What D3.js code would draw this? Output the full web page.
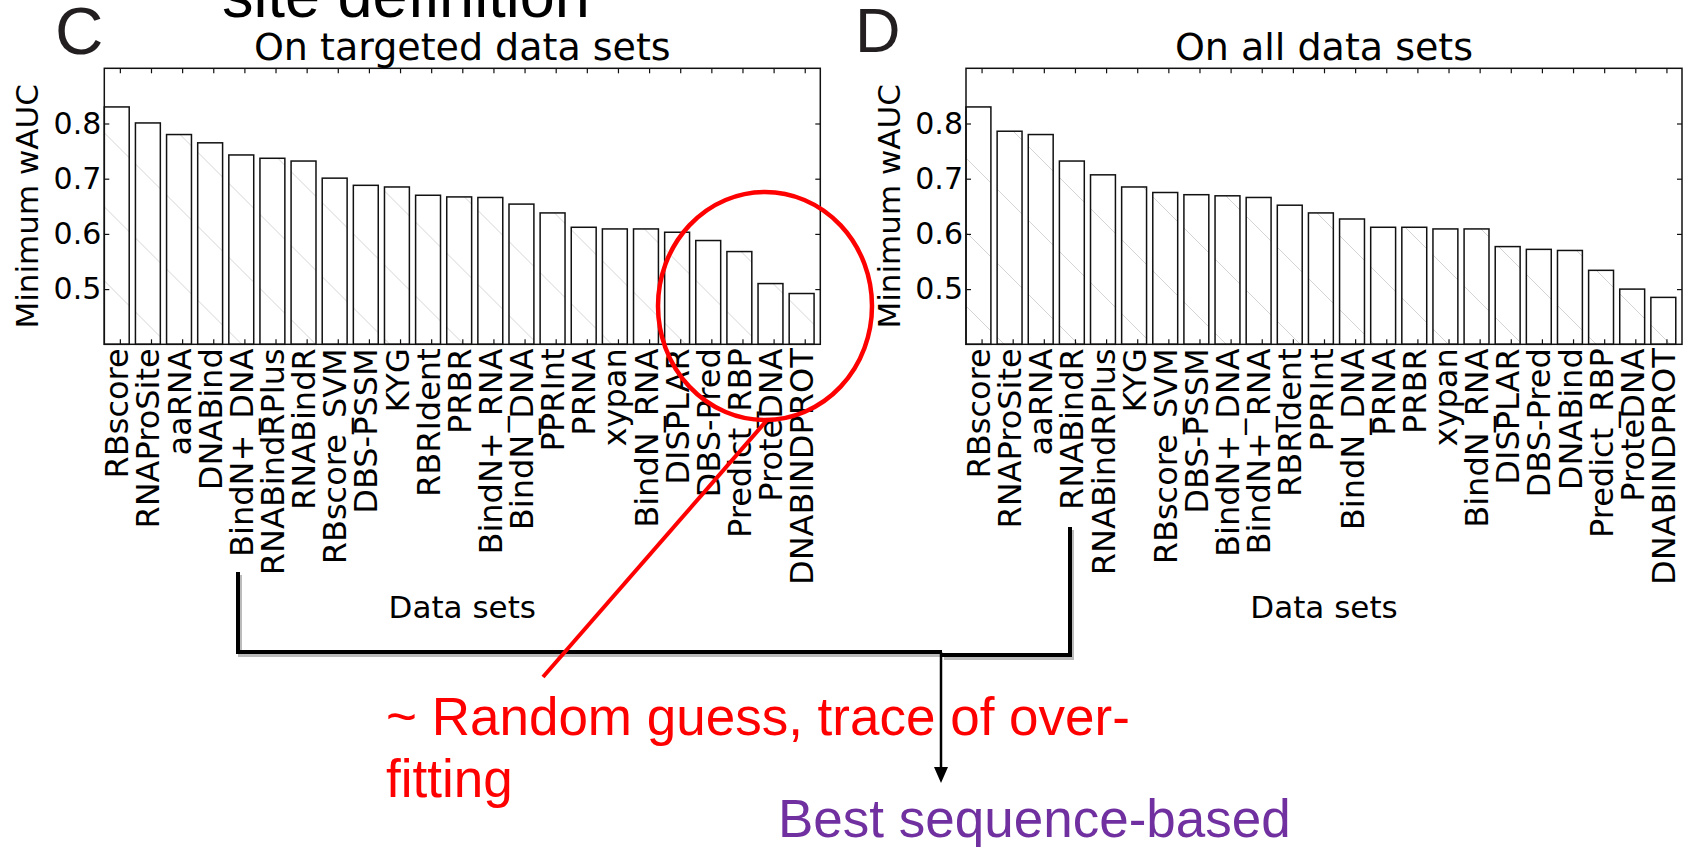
<!doctype html>
<html>

<head>
    <meta charset="utf-8">
    <title>Minimum wAUC - targeted vs all data sets</title>
    <script src="https://d3js.org/d3.v7.min.js"></script>
    <style>
        body {
            margin: 0;
            background: #fff;
        }

        text {
            font-family: 'DejaVu Sans', sans-serif;
        }

        .slide {
            font-family: 'Liberation Sans', Arial, sans-serif;
        }
    </style>
</head>

<body>
    <div id="my_dataviz"></div>

    <script>
        // panel C: on targeted data sets
        var namesTargeted = ["RBscore", "RNAProSite", "aaRNA", "DNABind", "BindN+_DNA", "RNABindRPlus",
            "RNABindR", "RBscore_SVM", "DBS-PSSM", "KYG", "RBRIdent", "PRBR", "BindN+_RNA", "BindN_DNA",
            "PPRInt", "PRNA", "xypan", "BindN_RNA", "DISPLAR", "DBS-Pred", "Predict_RBP", "ProteDNA",
            "DNABINDPROT"];
        var valuesTargeted = [0.830, 0.801, 0.780, 0.765, 0.743, 0.737, 0.732, 0.701, 0.688, 0.685,
            0.670, 0.667, 0.666, 0.654, 0.638, 0.612, 0.609, 0.609, 0.603, 0.588, 0.568, 0.510, 0.492];

        // panel D: on all data sets
        var namesAll = ["RBscore", "RNAProSite", "aaRNA", "RNABindR", "RNABindRPlus", "KYG",
            "RBscore_SVM", "DBS-PSSM", "BindN+_DNA", "BindN+_RNA", "RBRIdent", "PPRInt", "BindN_DNA",
            "PRNA", "PRBR", "xypan", "BindN_RNA", "DISPLAR", "DBS-Pred", "DNABind", "Predict_RBP",
            "ProteDNA", "DNABINDPROT"];
        var valuesAll = [0.830, 0.786, 0.780, 0.732, 0.707, 0.685, 0.675, 0.671, 0.669, 0.666,
            0.652, 0.638, 0.627, 0.612, 0.612, 0.609, 0.609, 0.577, 0.572, 0.570, 0.534, 0.500, 0.485];

        var yTicks = [0.5, 0.6, 0.7, 0.8];
        var yDomain = [0.4, 0.9];

        var W = 1688,
            H = 847;

        var svg = d3.select("#my_dataviz")
            .append("svg")
            .attr("width", W)
            .attr("height", H)
            .style("display", "block");

        svg.append("rect").attr("width", W).attr("height", H).attr("fill", "#fff");

        var defs = svg.append("defs");

        // faint diagonal hatch that runs across the bars
        function addHatch(id, offset) {
            var p = defs.append("pattern")
                .attr("id", id)
                .attr("patternUnits", "userSpaceOnUse")
                .attr("x", offset)
                .attr("y", 0)
                .attr("width", 74)
                .attr("height", 74);
            p.append("rect").attr("width", 74).attr("height", 74).attr("fill", "#fff");
            p.append("line")
                .attr("x1", -2).attr("y1", -2).attr("x2", 76).attr("y2", 76)
                .attr("stroke", "#d4d4d4")
                .attr("stroke-width", 1);
        }
        addHatch("hatchC", 45.5);
        addHatch("hatchD", 68);

        function drawPanel(names, values, left, title, hatch) {
            var top = 68.3,
                width = 716,
                height = 276;

            var g = svg.append("g");

            var x = d3.scaleLinear().domain([0, names.length]).range([left, left + width]);
            var y = d3.scaleLinear().domain(yDomain).range([top + height, top]);

            var tickPos = names.map(function (d, i) {
                return i + 0.5;
            });

            // bars
            g.selectAll("rect.bar")
                .data(values)
                .enter()
                .append("rect")
                .attr("class", "bar")
                .attr("x", function (d, i) {
                    return x(i);
                })
                .attr("width", function (d, i) {
                    return x(i + 0.8) - x(i);
                })
                .attr("y", function (d) {
                    return y(d);
                })
                .attr("height", function (d) {
                    return y(yDomain[0]) - y(d);
                })
                .attr("fill", "url(#" + hatch + ")")
                .attr("stroke", "#111")
                .attr("stroke-width", 1.5);

            // bottom axis with rotated labels
            var xb = g.append("g")
                .attr("transform", "translate(0," + (top + height) + ")")
                .call(d3.axisBottom(x).tickValues(tickPos).tickSize(-5).tickSizeOuter(0)
                    .tickFormat(function (d, i) {
                        return names[i];
                    }));
            xb.selectAll("text")
                .attr("x", 0)
                .attr("y", 0)
                .attr("dy", null)
                .attr("transform", "translate(8,4) rotate(-90)")
                .style("text-anchor", "end")
                .style("font-size", "32px")
                .attr("fill", "#000");

            // top axis (ticks only)
            g.append("g")
                .attr("transform", "translate(0," + top + ")")
                .call(d3.axisTop(x).tickValues(tickPos).tickSize(-5).tickSizeOuter(0).tickFormat(""));

            // left axis
            var yl = g.append("g")
                .attr("transform", "translate(" + left + ",0)")
                .call(d3.axisLeft(y).tickValues(yTicks).tickSize(-5).tickSizeOuter(0).tickPadding(3)
                    .tickFormat(d3.format(".1f")));
            yl.selectAll("text")
                .style("font-size", "30px")
                .attr("fill", "#000");

            // right axis (ticks only)
            g.append("g")
                .attr("transform", "translate(" + (left + width) + ",0)")
                .call(d3.axisRight(y).tickValues(yTicks).tickSize(-5).tickSizeOuter(0).tickFormat(""));

            g.selectAll(".domain").remove();
            g.selectAll(".tick line").attr("stroke", "#111").attr("stroke-width", 1.2);

            // frame
            g.append("rect")
                .attr("x", left)
                .attr("y", top)
                .attr("width", width)
                .attr("height", height)
                .attr("fill", "none")
                .attr("stroke", "#111")
                .attr("stroke-width", 1.5);

            g.append("text")
                .attr("x", left + width / 2)
                .attr("y", 60)
                .attr("text-anchor", "middle")
                .style("font-size", "38px")
                .text(title);

            g.append("text")
                .attr("x", left + width / 2)
                .attr("y", 618)
                .attr("text-anchor", "middle")
                .style("font-size", "31px")
                .text("Data sets");

            g.append("text")
                .attr("transform", "translate(" + (left - 66) + "," + (top + height / 2) + ") rotate(-90)")
                .attr("text-anchor", "middle")
                .style("font-size", "31px")
                .text("Minimum wAUC");
        }

        drawPanel(namesTargeted, valuesTargeted, 104.3, "On targeted data sets", "hatchC");
        drawPanel(namesAll, valuesAll, 966, "On all data sets", "hatchD");

        // slide annotations
        var ann = svg.append("g").attr("class", "slide");

        ann.append("text").attr("class", "slide").attr("x", 222).attr("y", 17)
            .style("font-size", "63px").attr("fill", "#000").text("site definition");

        ann.append("text").attr("class", "slide").attr("x", 55).attr("y", 54)
            .style("font-size", "67px").attr("fill", "#231f20").text("C");
        ann.append("text").attr("class", "slide").attr("x", 855).attr("y", 51.7)
            .style("font-size", "63px").attr("fill", "#231f20").text("D");

        // bracket joining the two RNABindR / BindN+_DNA positions
        var bracketL = [[238, 572], [238, 652], [942, 652]],
            bracketR = [[1070, 527], [1070, 655], [942, 655]];
        var line = d3.line();
        [bracketL, bracketR].forEach(function (pts) {
            ann.append("path")
                .attr("d", line(pts.map(function (p) {
                    return [p[0] + 2, p[1] + 3];
                })))
                .attr("fill", "none").attr("stroke", "#bbb").attr("stroke-width", 4);
        });
        [bracketL, bracketR].forEach(function (pts) {
            ann.append("path")
                .attr("d", line(pts))
                .attr("fill", "none").attr("stroke", "#000").attr("stroke-width", 4);
        });

        // arrow down to the purple note
        ann.append("path")
            .attr("d", line([[941, 652], [941, 770]]))
            .attr("stroke", "#000").attr("stroke-width", 2.5);
        ann.append("path")
            .attr("d", "M934,767 L948,767 L941,783 Z")
            .attr("fill", "#000");

        // red circle and pointer
        ann.append("ellipse")
            .attr("cx", 765).attr("cy", 306).attr("rx", 107).attr("ry", 114)
            .attr("fill", "none").attr("stroke", "#ff0000").attr("stroke-width", 4.5);
        ann.append("path")
            .attr("d", line([[768, 419], [543, 677]]))
            .attr("stroke", "#ff0000").attr("stroke-width", 4);

        ann.append("text").attr("class", "slide").attr("x", 386).attr("y", 735)
            .style("font-size", "53px").attr("fill", "#ff0000").text("~ Random guess, trace of over-");
        ann.append("text").attr("class", "slide").attr("x", 386).attr("y", 797)
            .style("font-size", "53px").attr("fill", "#ff0000").text("fitting");

        ann.append("text").attr("class", "slide").attr("x", 778).attr("y", 837)
            .style("font-size", "53px").attr("fill", "#7030a0").text("Best sequence-based");
    </script>

</body>

</html>
